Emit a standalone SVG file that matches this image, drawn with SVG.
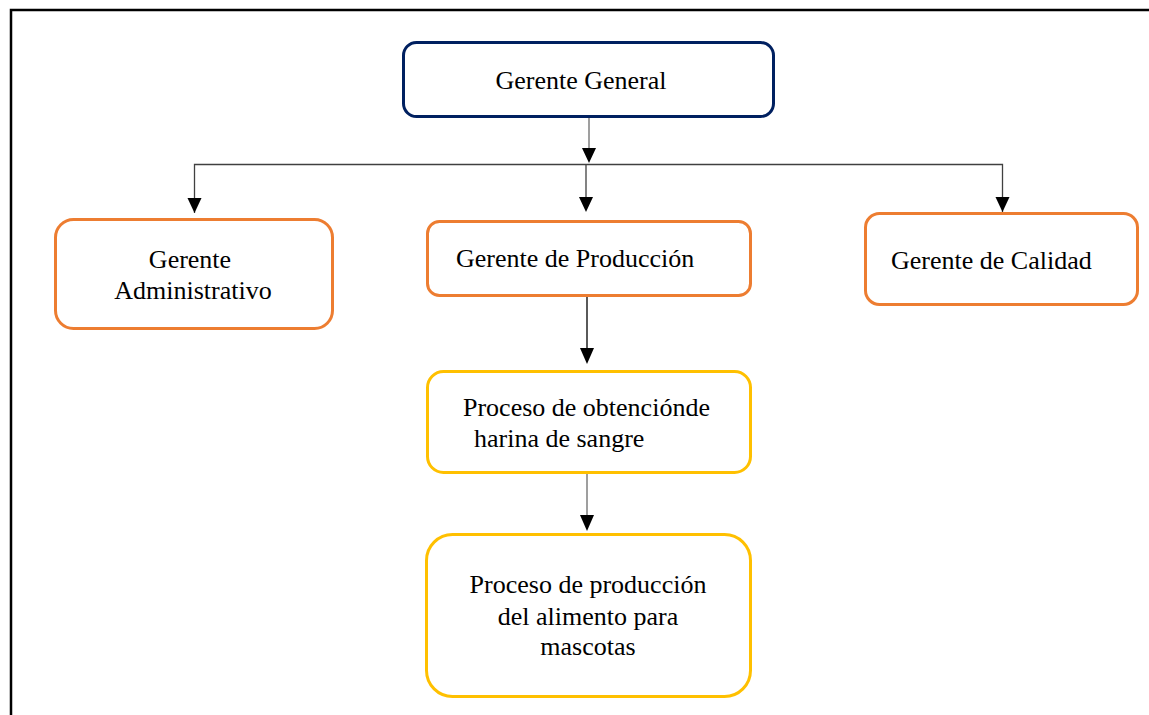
<svg xmlns="http://www.w3.org/2000/svg" width="1149" height="715" viewBox="0 0 1149 715">
<style>
text{font-family:'Liberation Serif','Times New Roman','DejaVu Serif',serif;font-size:26px;fill:#000}
.box{fill:#fff;stroke-width:3}
.navy{stroke:#002060}
.orange{stroke:#ED7D31}
.yellow{stroke:#FFC000}
.g{stroke:#7f7f7f;stroke-width:1.5;fill:none}
.k{stroke:#404040;stroke-width:1.3;fill:none}
.b{stroke:#000;stroke-width:1.3;fill:none}
.ah{fill:#000}
</style>
<rect x="0" y="0" width="1149" height="715" fill="#fff"/>
<path d="M11,715 V10 H1149" fill="none" stroke="#000" stroke-width="2.5"/>
<g id="connectors">
<path class="g" d="M589,117 V149"/>
<path class="ah" d="M582,148 L596,148 L589,163 Z"/>
<path class="k" d="M194.5,213 V164.5 H1002.5 V213"/>
<path class="k" d="M586,164.5 V198"/>
<path class="ah" d="M187.5,198 L201.5,198 L194.5,213 Z"/>
<path class="ah" d="M579,197 L593,197 L586,212 Z"/>
<path class="ah" d="M995.5,197 L1009.5,197 L1002.5,212 Z"/>
<path class="b" d="M587,296 V349"/>
<path class="ah" d="M580,348 L594,348 L587,364 Z"/>
<path class="g" d="M587,474 V516"/>
<path class="ah" d="M580,515 L594,515 L587,531 Z"/>
</g>
<g id="gerente-general">
<rect class="box navy" x="403.5" y="42.5" width="370" height="74" rx="13"/>
<text x="581" y="89" text-anchor="middle" font-family="Liberation Serif, serif">Gerente General</text>
</g>
<g id="gerente-administrativo">
<rect class="box orange" x="55.5" y="219.5" width="277" height="109" rx="18"/>
<text x="190" y="268" text-anchor="middle">Gerente</text>
<text x="193" y="299" text-anchor="middle">Administrativo</text>
</g>
<g id="gerente-produccion">
<rect class="box orange" x="427.5" y="221.5" width="323" height="74" rx="12"/>
<text x="456" y="267">Gerente de Producción</text>
</g>
<g id="gerente-calidad">
<rect class="box orange" x="865.5" y="213.5" width="272" height="91" rx="14"/>
<text x="891" y="269">Gerente de Calidad</text>
</g>
<g id="proceso-harina">
<rect class="box yellow" x="427.5" y="371.5" width="323" height="101" rx="16"/>
<text x="463" y="416">Proceso de obtenciónde</text>
<text x="474" y="447">harina de sangre</text>
</g>
<g id="proceso-alimento">
<rect class="box yellow" x="426.5" y="534.5" width="324" height="162" rx="26"/>
<text x="588" y="593" text-anchor="middle">Proceso de producción</text>
<text x="588" y="625" text-anchor="middle">del alimento para</text>
<text x="588" y="655" text-anchor="middle">mascotas</text>
</g>
</svg>
